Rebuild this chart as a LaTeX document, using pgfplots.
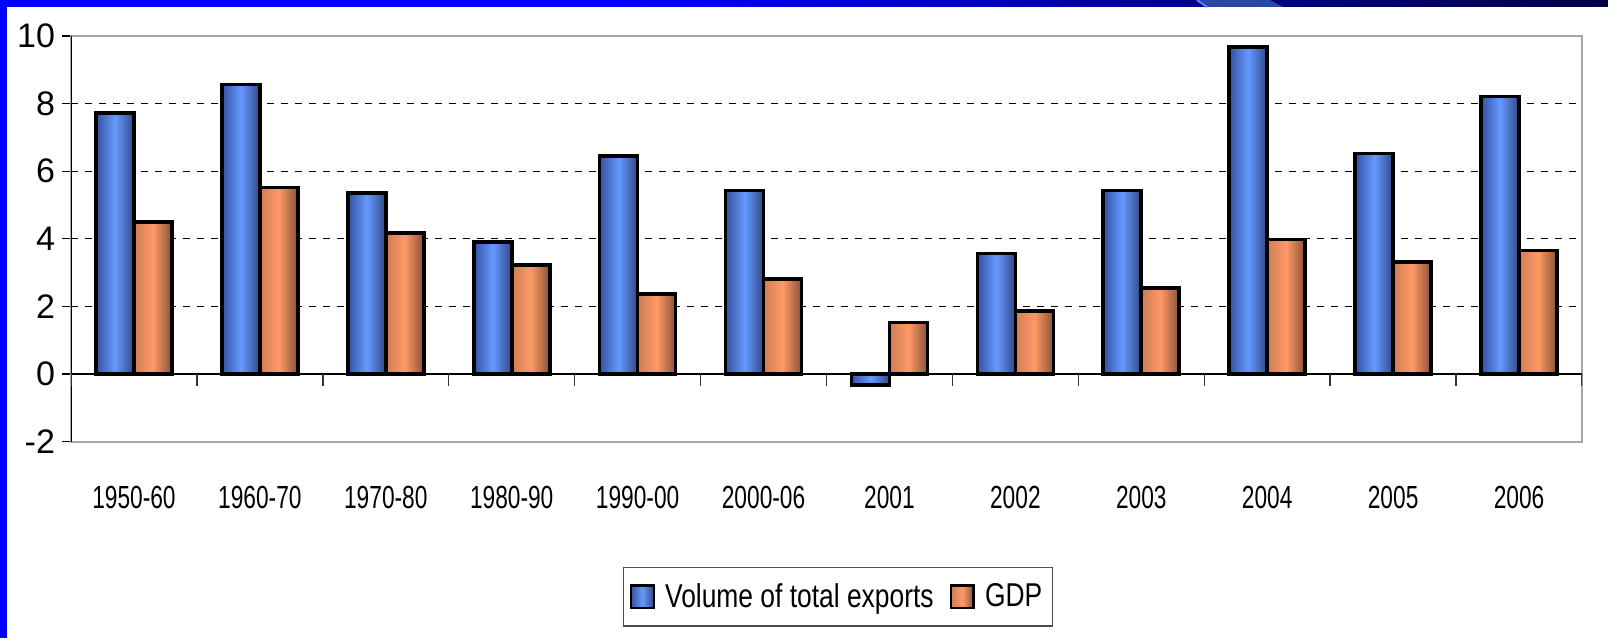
\documentclass[border=0pt]{standalone}
\usepackage{pgfplots}
\pgfplotsset{compat=1.18}
\usepackage{fontspec}
\setmainfont{Liberation Sans}
\newfontfamily\narrow[FakeStretch=0.71]{Liberation Sans}
\newfontfamily\narrowl[FakeStretch=0.80]{Liberation Sans}

\definecolor{blueL}{RGB}{52,82,160}
\definecolor{blueM}{RGB}{102,153,255}
\definecolor{blueR}{RGB}{48,72,135}
\definecolor{orL}{RGB}{205,125,85}
\definecolor{orM}{RGB}{255,153,102}
\definecolor{orR}{RGB}{135,82,52}
\definecolor{slideblue}{RGB}{0,0,255}
\definecolor{navy}{RGB}{0,0,70}
\definecolor{decor}{RGB}{40,72,168}
\definecolor{decoredge}{RGB}{80,130,255}

\pgfplotstableread{
x exports gdp
0 7.72 4.50
1 8.57 5.52
2 5.35 4.17
3 3.90 3.23
4 6.45 2.37
5 5.43 2.82
6 -0.33 1.53
7 3.57 1.86
8 5.43 2.55
9 9.67 3.98
10 6.53 3.31
11 8.21 3.66
}\datatable

\pgfplotsset{
  bluebar/.style={draw=black, line width=1.8pt, left color=blueL, right color=blueR, middle color=blueM},
  orbar/.style={draw=black, line width=1.8pt, left color=orL, right color=orR, middle color=orM},
}

\begin{document}
\begin{tikzpicture}[x=0.5pt,y=0.5pt]
\useasboundingbox (0,0) rectangle (1608,638);
\fill[white] (0,0) rectangle (1608,638);
% slide frame
\fill[slideblue] (0,631) rectangle (620,638);
\shade[left color=slideblue, right color=navy] (619,631) rectangle (1608,638);
\fill[decor] (1197,638) -- (1270,638) -- (1283,631) -- (1207,631) -- cycle;
\draw[decoredge, line width=1pt] (1197,638) -- (1207,631);
\fill[slideblue] (0,0) rectangle (7,638);

\begin{axis}[
  at={(35.5pt,98.15pt)}, anchor=south west, scale only axis,
  width=755.5pt, height=202.85pt,
  xmin=-0.5, xmax=11.5, ymin=-2, ymax=10,
  ytick={-2,0,2,4,6,8,10}, yticklabels={-2,0,2,4,6,8,10},
  xtick={0,...,11},
  xticklabels={1950-60,1960-70,1970-80,1980-90,1990-00,2000-06,2001,2002,2003,2004,2005,2006},
  xtick style={draw=none},
  ytick pos=left,
  tick align=outside, major tick length=4.5pt,
  y tick style={black, line width=0.6pt},
  ybar=0pt, bar width=19pt,
  ymajorgrids,
  grid style={black, line width=0.6pt, dash pattern=on 3.5pt off 3.5pt},
  axis line style={draw=gray!70, line width=0.8pt},
  yticklabel style={font=\fontsize{17}{17}\selectfont},
  xticklabel style={font=\narrow\fontsize{16}{16}\selectfont, yshift=-14pt},
  legend style={at={(0.5076,-0.3818)}, anchor=center, draw=gray!60!black,
    line width=0.6pt, font=\narrowl\fontsize{16.5}{16.5}\selectfont,
    inner xsep=3pt, inner ysep=6pt,
    /tikz/every odd column/.append style={column sep=3pt},
    /tikz/every even column/.append style={column sep=6pt}},
  legend columns=2,
  legend image code/.code={\draw[#1, draw=black, line width=1.3pt] (0pt,-5.7pt) rectangle (11.4pt,5.7pt);},
]
\pgfplotsinvokeforeach{0,1,2,3,4,5,6,7,8,9,10,11}{
  \addplot[bluebar, bar shift=-9.5pt, forget plot, restrict x to domain=#1:#1] table[x=x, y=exports] {\datatable};
  \addplot[orbar, bar shift=9.5pt, forget plot, restrict x to domain=#1:#1] table[x=x, y=gdp] {\datatable};
}
\addlegendimage{bluebar}
\addlegendentry{Volume of total exports}
\addlegendimage{orbar}
\addlegendentry{GDP}
\draw[black, line width=0.8pt] (rel axis cs:0,0) -- (rel axis cs:0,1);
\draw[black, line width=0.8pt] (axis cs:-0.5,0) -- (axis cs:11.5,0);
\pgfplotsinvokeforeach{-0.5,0.5,1.5,2.5,3.5,4.5,5.5,6.5,7.5,8.5,9.5,10.5,11.5}{
  \draw[black!80, line width=0.7pt] (axis cs:#1,0) -- ([yshift=-6pt]axis cs:#1,0);
}
\end{axis}
\end{tikzpicture}
\end{document}
